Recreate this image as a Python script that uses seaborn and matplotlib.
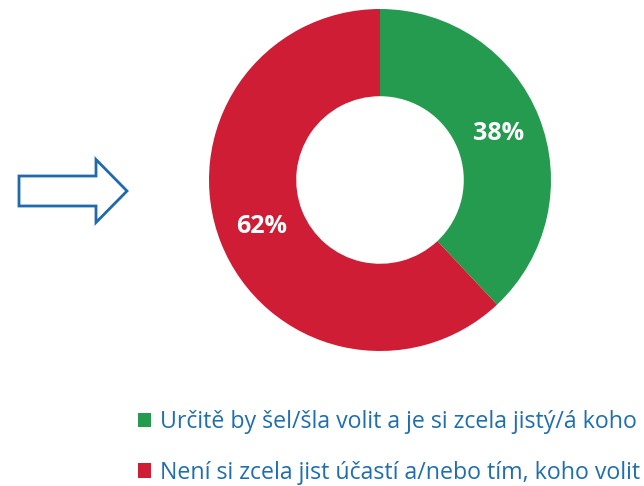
import matplotlib
matplotlib.use("Agg")
import matplotlib.pyplot as plt
import matplotlib.patches as mpatches
import seaborn as sns

# data
categories = ["Určitě by šel/šla volit a je si zcela jistý/á koho",
              "Není si zcela jist účastí a/nebo tím, koho volit"]
shares = [38, 62]
colors = ["#259B50", "#CE1D35"]
text_blue = "#1F6FB0"

sns.set_theme(style="white")
plt.rcParams['font.family'] = ['Open Sans', 'DejaVu Sans']

fig = plt.figure(figsize=(6.44, 4.86), dpi=100)
ax = fig.add_axes([0, 0, 1, 1])

wedges, _, autotexts = ax.pie(
    shares, colors=colors, startangle=90, counterclock=False,
    center=(380, 486 - 180), radius=171,
    autopct=lambda p: f"{p:.0f}%", pctdistance=0.745,
    wedgeprops=dict(width=171 * 0.51, linewidth=0),
    textprops=dict(color="white", fontsize=18, fontweight="bold"))

ax.set_xlim(0, 644)
ax.set_ylim(0, 486)
ax.set_aspect("equal")
ax.axis("off")

# outline arrow on the left
arrow = mpatches.FancyArrow(19, 486 - 191, 108, 0, width=30, head_width=63,
                            head_length=31, length_includes_head=True,
                            fill=False, edgecolor="#1F6AAE", linewidth=2)
ax.add_patch(arrow)

leg = ax.legend(wedges, categories, loc="upper right",
                bbox_to_anchor=(649 / 644, 1 - 401 / 486),
                frameon=False, fontsize=16.7, labelcolor=text_blue,
                handlelength=0.6, handleheight=0.6, handletextpad=0.35,
                labelspacing=1.15, borderaxespad=0)

fig.savefig("out.png", dpi=100)
